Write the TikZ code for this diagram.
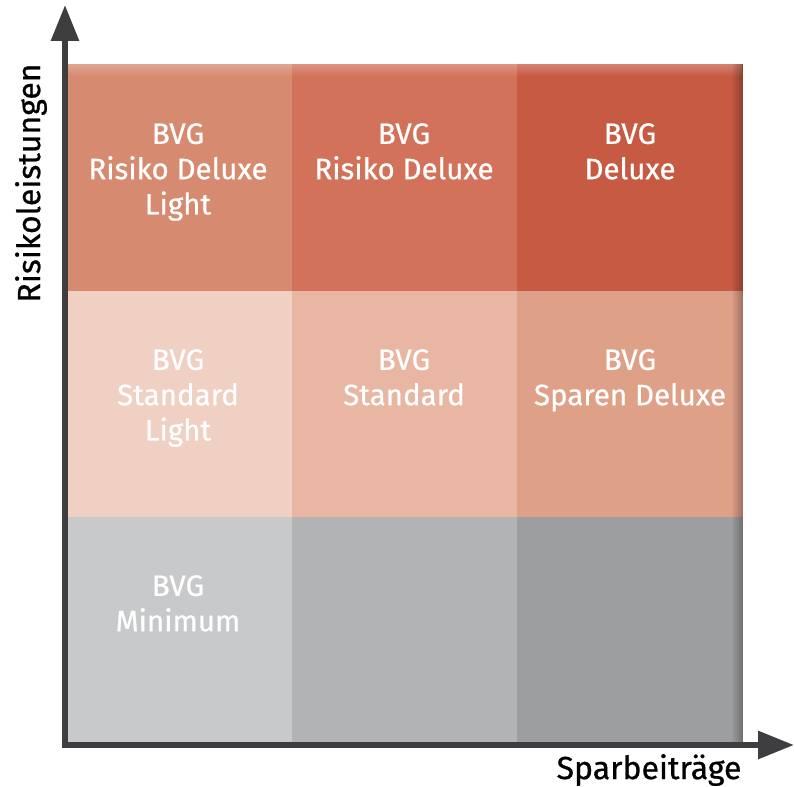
\documentclass[tikz,border=0pt]{standalone}
\usepackage{fontspec}
\setmainfont{Fira Sans}
\newfontfamily\medfont{Fira Sans}[FakeBold=0.7]
\usetikzlibrary{arrows.meta,fadings}
\definecolor{rA}{HTML}{D68A70}
\definecolor{rB}{HTML}{D2725A}
\definecolor{rC}{HTML}{C65A43}
\definecolor{mA}{HTML}{F0D0C3}
\definecolor{mB}{HTML}{E8B6A2}
\definecolor{mC}{HTML}{DFA088}
\definecolor{gA}{HTML}{C8C9CB}
\definecolor{gB}{HTML}{B2B3B5}
\definecolor{gC}{HTML}{9D9EA0}
\definecolor{axisgray}{HTML}{3E3E40}
\tikzfading[name=fadeleft, left color=transparent!100, right color=transparent!0]
\tikzfading[name=fadedown, top color=transparent!0, bottom color=transparent!100]
\tikzset{
  celltext/.style={anchor=north, text=white, align=center, inner sep=0pt,
    font=\medfont\fontsize{29.5}{35.3}\selectfont},
  axislabel/.style={text=black, inner sep=0pt, font=\medfont\fontsize{32}{36}\selectfont},
  axisline/.style={draw=axisgray, line width=6pt,
    -{Triangle[width=27pt,length=36pt]}}
}
\begin{document}
\begin{tikzpicture}[x=1pt,y=-1pt]
\useasboundingbox (0,0) rectangle (794,786);
% cells
\fill[rA] (68,64) rectangle (292,291);
\fill[rB] (292,64) rectangle (517,291);
\fill[rC] (517,64) rectangle (743,291);
\fill[mA] (68,291) rectangle (292,517);
\fill[mB] (292,291) rectangle (517,517);
\fill[mC] (517,291) rectangle (743,517);
\fill[gA] (68,517) rectangle (292,742);
\fill[gB] (292,517) rectangle (517,742);
\fill[gC] (517,517) rectangle (743,742);
% bevel shading
\fill[white, opacity=0.25, path fading=fadedown] (68,64) rectangle (743,76);
\fill[black, opacity=0.3, path fading=fadeleft] (731,64) rectangle (743,742);
% texts
\node[celltext] (c11) at (178,123) {BVG\\Risiko Deluxe\\Light};
\node[celltext] (c12) at (404,123) {BVG\\Risiko Deluxe};
\node[celltext] (c13) at (630,123) {BVG\\Deluxe};
\node[celltext] (c21) at (178,349) {BVG\\Standard\\Light};
\node[celltext] (c22) at (404,349) {BVG\\Standard};
\node[celltext] (c23) at (630,349) {BVG\\Sparen Deluxe};
\node[celltext] (c31) at (178,575) {BVG\\Minimum};
% axes
\coordinate (o1) at (65,748);
\coordinate (ytip) at (65,5);
\coordinate (o2) at (62,745);
\coordinate (xtip) at (794,745);
\draw[axisline] (o1) -- (ytip);
\draw[axisline] (o2) -- (xtip);
\node[axislabel, rotate=90] (ylab) at (31,183) {Risikoleistungen};
\node[axislabel] (xlab) at (649,770) {Sparbeiträge};
\end{tikzpicture}
\end{document}
